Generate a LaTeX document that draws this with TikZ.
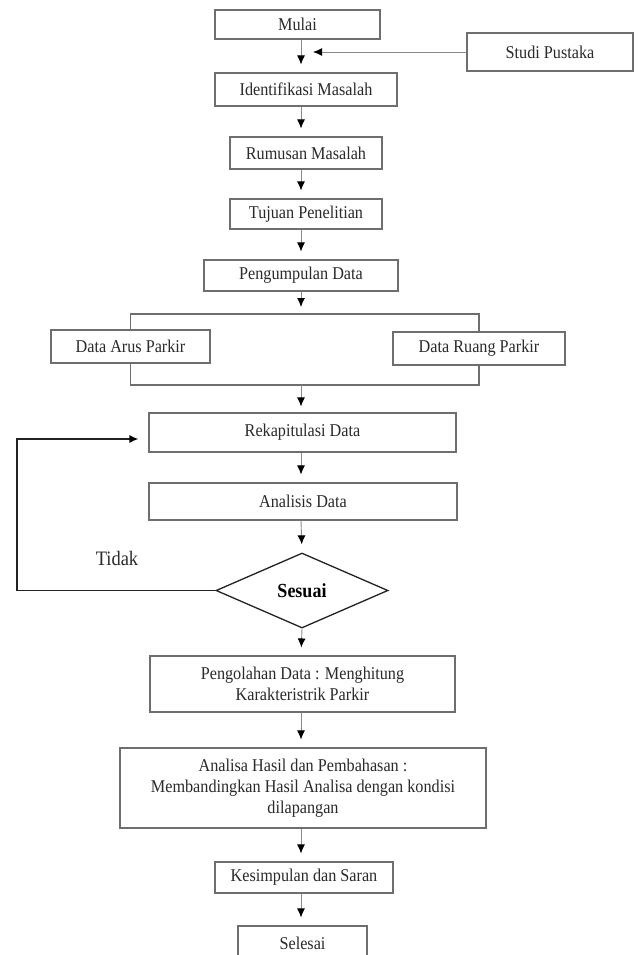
\documentclass[tikz,border=0pt]{standalone}
\usepackage{fontspec}
\setmainfont{Liberation Serif}[FakeStretch=0.9]
\usetikzlibrary{arrows.meta,shapes.geometric}
\definecolor{boxgray}{HTML}{6E6E6E}
\definecolor{linegray}{HTML}{8A8A8A}
\definecolor{darkline}{HTML}{222222}
\definecolor{txt}{HTML}{2A2A2A}
\begin{document}
\begin{tikzpicture}[x=1pt,y=-1pt,
  box/.style={draw=boxgray,line width=1.1pt,fill=white,inner sep=0pt,align=center,text=txt,
    font=\fontsize{18}{21}\selectfont},
  conn/.style={draw=linegray,line width=0.9pt,-{Latex[length=9pt,width=8pt,color=black]},shorten >=8pt},
  brk/.style={draw=boxgray,line width=1.1pt},
  loopline/.style={draw=darkline,line width=1.4pt,-{Latex[length=9pt,width=8pt,color=black]},shorten >=10pt},
  decision/.style={diamond,draw=darkline,line width=1.3pt,fill=white,inner sep=0pt,
    minimum width=172pt,minimum height=75pt,font=\fontsize{20}{22}\selectfont\bfseries},
  lbl/.style={inner sep=0pt,text=txt,font=\fontsize{20.5}{22}\selectfont}]
\useasboundingbox (0,0) rectangle (637,955);
\clip (0,0) rectangle (637,955);
\fill[white] (0,0) rectangle (637,955);
\coordinate (ax) at (301,0);
% nodes
\node[box,minimum width=165pt,minimum height=29pt] (mulai) at (297.5,24.5) {Mulai};
\node[box,minimum width=166pt,minimum height=38pt] (studi) at (550,52) {Studi Pustaka};
\node[box,minimum width=182pt,minimum height=33pt] (ident) at (306,89.5) {Identifikasi Masalah};
\node[box,minimum width=152pt,minimum height=32pt] (rumusan) at (306,153) {Rumusan Masalah};
\node[box,minimum width=152pt,minimum height=30pt] (tujuan) at (306,214) {Tujuan Penelitian};
\node[box,minimum width=194pt,minimum height=31pt] (peng) at (301,275.5) {Pengumpulan Data};
\coordinate (btop) at (301,314);
\coordinate (bbot) at (301,385);
\node[box,minimum width=159pt,minimum height=33pt] (arus) at (130.5,346.5) {Data Arus Parkir};
\node[box,minimum width=172pt,minimum height=33pt] (ruang) at (479,348.5) {Data Ruang Parkir};
\node[box,minimum width=307pt,minimum height=39pt] (rekap) at (302.5,432.5) {Rekapitulasi Data};
\node[box,minimum width=308pt,minimum height=37pt] (analisis) at (303,501.5) {Analisis Data};
\node[decision] (dia) at (302,590.5) {Sesuai};
\node[lbl] (tidak) at (117,558) {Tidak};
\node[box,minimum width=305pt,minimum height=56pt] (olah) at (302.5,684) {Pengolahan Data : Menghitung\\Karakteristrik Parkir};
\node[box,minimum width=366pt,minimum height=80pt] (hasil) at (303,788) {Analisa Hasil dan Pembahasan :\\Membandingkan Hasil Analisa dengan kondisi\\dilapangan};
\node[box,minimum width=178pt,minimum height=31pt] (simpul) at (304,877.5) {Kesimpulan dan Saran};
\node[box,minimum width=129pt,minimum height=34pt] (selesai) at (302.5,943) {Selesai};
\coordinate (sp) at (301,52);
\coordinate (lx) at (17,439);
% connectors
\draw[conn] (ax |- mulai.south) -- (ax |- ident.north);
\draw[conn,shorten >=12pt] (studi.west) -- (sp);
\draw[conn] (ax |- ident.south) -- (ax |- rumusan.north);
\draw[conn] (ax |- rumusan.south) -- (ax |- tujuan.north);
\draw[conn] (ax |- tujuan.south) -- (ax |- peng.north);
\draw[conn,shorten >=7pt] (peng.south) -- (btop);
\draw[brk] (arus.north) |- (btop) -| (ruang.north);
\draw[brk] (arus.south) |- (bbot) -| (ruang.south);
\draw[conn,shorten >=6pt] (bbot) -- (ax |- rekap.north);
\draw[conn] (ax |- rekap.south) -- (ax |- analisis.north);
\draw[conn] (ax |- analisis.south) -- (dia.north);
\draw[conn] (dia.south) -- (ax |- olah.north);
\draw[conn] (ax |- olah.south) -- (ax |- hasil.north);
\draw[conn] (ax |- hasil.south) -- (ax |- simpul.north);
\draw[conn] (ax |- simpul.south) -- (ax |- selesai.north);
\draw[loopline] (dia.west) -| (lx) -- (lx -| rekap.west);
\end{tikzpicture}
\end{document}
